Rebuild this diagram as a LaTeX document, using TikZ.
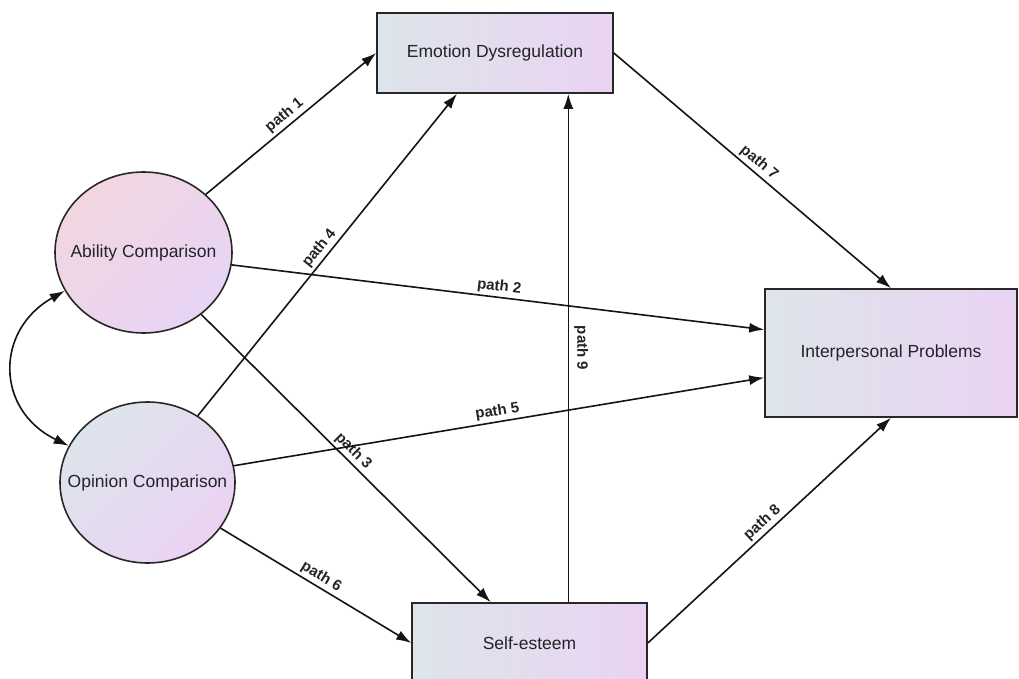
\documentclass[tikz,border=0pt]{standalone}
\usepackage{fontspec}
\setmainfont{Liberation Sans}
\usetikzlibrary{arrows.meta,calc,shapes.geometric}
\definecolor{boxL}{RGB}{221,229,234}
\definecolor{boxR}{RGB}{234,211,243}
\definecolor{abTL}{RGB}{242,214,225}
\definecolor{abBR}{RGB}{231,213,245}
\definecolor{opTL}{RGB}{221,228,236}
\definecolor{opBR}{RGB}{235,211,243}
\definecolor{bordercol}{RGB}{40,40,40}
\definecolor{linecol}{RGB}{20,20,20}
\definecolor{txt}{RGB}{35,35,40}
\begin{document}
\begin{tikzpicture}[x=1pt,y=-1pt,
  box/.style={draw=bordercol, line width=1.6pt, rectangle, inner sep=0pt,
    font=\fontsize{17.5}{20}\selectfont, text=txt, left color=boxL, right color=boxR},
  ell/.style={draw=bordercol, line width=1.6pt, ellipse, inner sep=0pt},
  lab/.style={font=\fontsize{17.5}{20}\selectfont, text=txt},
  conn/.style={draw=linecol, line width=1.6pt, -{Latex[length=15pt,width=10pt]}},
  lbl/.style={font=\bfseries\fontsize{15}{17}\selectfont, text=txt, sloped, above, inner sep=2.5pt, midway},
  lblnine/.style={font=\bfseries\fontsize{15}{17}\selectfont, text=txt, inner sep=0pt}]
\useasboundingbox (0,0) rectangle (1019,679);

\node[box, minimum width=236pt, minimum height=80pt] (E) at (495,53) {Emotion Dysregulation};
\node[box, minimum width=252pt, minimum height=128pt] (I) at (891,353) {Interpersonal Problems};
\node[box, minimum width=235pt, minimum height=80pt] (S) at (529.5,643) {Self-esteem};

\node[ell, minimum width=177pt, minimum height=161pt, top color=abTL, bottom color=abBR, shading angle=45,
  label={[lab]center:Ability Comparison}] (A) at (143.5,252.5) {};
\node[ell, minimum width=175pt, minimum height=161pt, top color=opTL, bottom color=opBR, shading angle=45,
  label={[lab]center:Opinion Comparison}] (O) at (147.5,482.5) {};

\draw[conn] (A.43) -- node[lbl]{path 1} (E.west);
\draw[conn] (A.352) -- node[lbl]{path 2} ($(I.north west)!0.32!(I.south west)$);
\draw[conn] (A.313) -- node[lbl]{path 3} ($(S.north west)!0.336!(S.north east)$);
\draw[conn] (O.53) -- node[lbl]{path 4} ($(E.south west)!0.34!(E.south east)$);
\draw[conn] (O.11) -- node[lbl]{path 5} ($(I.north west)!0.69!(I.south west)$);
\draw[conn] (O.328) -- node[lbl]{path 6} (S.west);
\draw[conn] (E.east) -- node[lbl]{path 7} (I.north);
\draw[conn] (S.east) -- node[lbl]{path 8} (I.south);

\coordinate (s9) at ($(S.north west)!0.664!(S.north east)$);
\coordinate (e9) at (s9 |- E.south);
\draw[conn] (s9) -- (e9);
\node[lblnine, rotate=-90] (l9) at ($(s9)!0.5!(e9) + (13,0)$) {path 9};

\draw[draw=linecol, line width=1.6pt, {Latex[length=15pt,width=10pt]}-{Latex[length=15pt,width=10pt]}]
  (A.206) .. controls (-5,330) and (-5,410) .. (O.155);
\end{tikzpicture}
\end{document}
